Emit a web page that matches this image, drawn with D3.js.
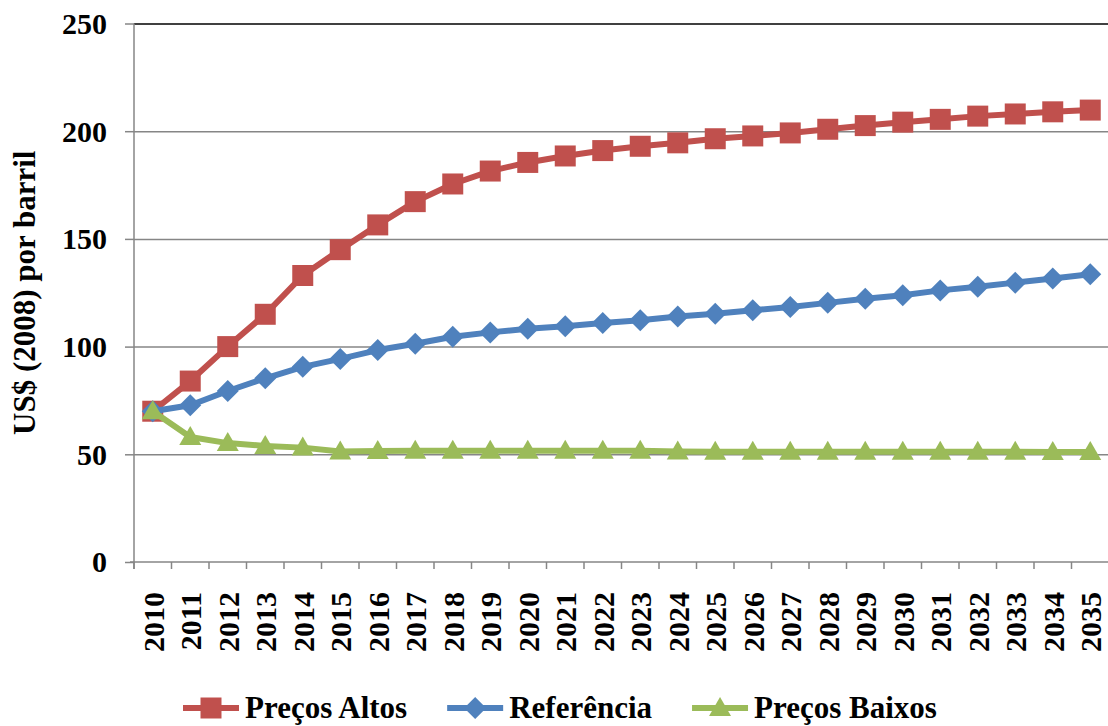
<!DOCTYPE html>
<html>
<head>
<meta charset="utf-8">
<script src="https://cdn.jsdelivr.net/npm/d3@7"></script>
<style>
  html, body { margin: 0; padding: 0; background: #fff; }
  svg { display: block; }
</style>
</head>
<body>
<svg id="chart" width="1108" height="726"></svg>
<script>
// Oil price scenarios, US$ (2008) per barrel
const years = ["2010","2011","2012","2013","2014","2015","2016","2017","2018","2019","2020","2021","2022",
               "2023","2024","2025","2026","2027","2028","2029","2030","2031","2032","2033","2034","2035"];
const precosAltos = [70, 84, 100, 115, 133, 145, 156.5, 167.3, 175.5, 181.5, 185.5, 188.5, 191,
                     193, 194.6, 196.5, 197.8, 199.2, 200.9, 202.6, 204.2, 205.5, 207, 208, 209, 209.8];
const referencia  = [70, 72.8, 79.4, 85.3, 90.6, 94.3, 98.4, 101.3, 104.6, 106.6, 108.3, 109.4, 111,
                     112.2, 114, 115.3, 116.9, 118.4, 120.3, 122.2, 123.8, 126.1, 127.8, 129.7, 131.6, 133.6];
const precosBaixos = [70, 58, 55.2, 53.9, 53.1, 51.3, 51.5, 51.7, 51.7, 51.7, 51.7, 51.7, 51.7,
                      51.7, 51.3, 51.2, 51.2, 51.2, 51.2, 51.2, 51.2, 51.2, 51.2, 51.2, 51.1, 51.1];
const yTicks = [0, 50, 100, 150, 200, 250];
const seriesNames = ["Preços Altos", "Referência", "Preços Baixos"];

const series = [
  { name: seriesNames[0], values: precosAltos,  color: "#C0504D", marker: "square" },
  { name: seriesNames[1], values: referencia,   color: "#4F81BD", marker: "diamond" },
  { name: seriesNames[2], values: precosBaixos, color: "#9BBB59", marker: "triangle" }
];

const FONT = "'Liberation Serif', 'Times New Roman', serif";
const svg = d3.select("#chart");
const plotL = 134, plotR = 1109, plotT = 23.5, plotB = 562;

const x = d3.scaleBand().domain(years).range([plotL, plotR]).padding(0);
const cx = d => x(d) + x.bandwidth() / 2;
const y = d3.scaleLinear().domain([0, 250]).range([plotB, plotT]);

function styleText(sel, size) {
  sel.style("font-family", FONT).style("font-weight", "bold")
     .style("font-size", size + "px").attr("fill", "#000");
}

// Horizontal gridlines
const grid = svg.append("g").attr("transform", `translate(${plotL},0)`)
  .call(d3.axisLeft(y).tickValues(yTicks.filter(t => t > 0)).tickSize(-(plotR - plotL)).tickFormat(""));
grid.select(".domain").remove();
grid.selectAll(".tick line")
  .attr("stroke", d => d === 250 ? "#000" : "#868686")
  .attr("stroke-width", 1.5);

// Y axis with tick labels
const yAxis = svg.append("g").attr("transform", `translate(${plotL},0)`)
  .call(d3.axisLeft(y).tickValues(yTicks).tickSize(9).tickPadding(18).tickSizeOuter(0));
yAxis.select(".domain").attr("stroke", "#868686").attr("stroke-width", 1.5)
  .attr("d", `M0,${plotT}V${plotB + 7}`);
yAxis.selectAll(".tick line").attr("stroke", "#868686").attr("stroke-width", 1.5);
yAxis.selectAll(".tick text").attr("dy", "0.33em").call(styleText, 30);

// X axis: baseline, category boundary ticks and rotated year labels
const xAxis = svg.append("g");
xAxis.append("line")
  .attr("x1", plotL - 4).attr("x2", plotR).attr("y1", plotB).attr("y2", plotB)
  .attr("stroke", "#868686").attr("stroke-width", 1.5);
xAxis.selectAll("line.xtick")
  .data(years.map(d => x(d)).concat([plotR]))
  .join("line").attr("class", "xtick")
  .attr("x1", d => d).attr("x2", d => d)
  .attr("y1", plotB).attr("y2", plotB + 7)
  .attr("stroke", "#868686").attr("stroke-width", 1.5);
xAxis.selectAll("text.xlab")
  .data(years)
  .join("text").attr("class", "xlab")
  .attr("transform", d => `translate(${cx(d) + 1},592) rotate(-90)`)
  .attr("text-anchor", "end")
  .attr("dy", "0.33em")
  .call(styleText, 30)
  .text(d => d);

// Y axis title
svg.append("text")
  .attr("transform", `translate(35,${(plotT + plotB) / 2}) rotate(-90)`)
  .attr("text-anchor", "middle")
  .call(styleText, 31)
  .text("US$ (2008) por barril");

// Marker shapes
function markerPath(type) {
  if (type === "square") return "M-10.5,-10.5H10.5V10.5H-10.5Z";
  if (type === "diamond") return "M0,-11L11,0L0,11L-11,0Z";
  return "M0,-11L11,8L-11,8Z";
}

// Series: line then markers, drawn in order
const line = d3.line().x((v, i) => cx(years[i])).y(v => y(v));
series.forEach(s => {
  const g = svg.append("g");
  g.append("path")
    .attr("d", line(s.values))
    .attr("fill", "none")
    .attr("stroke", s.color)
    .attr("stroke-width", 6)
    .attr("stroke-linejoin", "round");
  g.selectAll("path.mk")
    .data(s.values)
    .join("path").attr("class", "mk")
    .attr("transform", (v, i) => `translate(${cx(years[i])},${y(v)})`)
    .attr("d", markerPath(s.marker))
    .attr("fill", s.color);
});

// Legend
const legend = svg.append("g");
let lx = 183;
const ly = 708;
series.forEach(s => {
  const item = legend.append("g");
  item.append("line")
    .attr("x1", lx).attr("x2", lx + 56).attr("y1", ly).attr("y2", ly)
    .attr("stroke", s.color).attr("stroke-width", 6);
  item.append("path")
    .attr("transform", `translate(${lx + 28},${ly})`)
    .attr("d", markerPath(s.marker))
    .attr("fill", s.color);
  const t = item.append("text")
    .attr("x", lx + 62).attr("y", ly + 10)
    .call(styleText, 31)
    .text(s.name);
  lx = lx + 62 + t.node().getComputedTextLength() + 40;
});
</script>
</body>
</html>
